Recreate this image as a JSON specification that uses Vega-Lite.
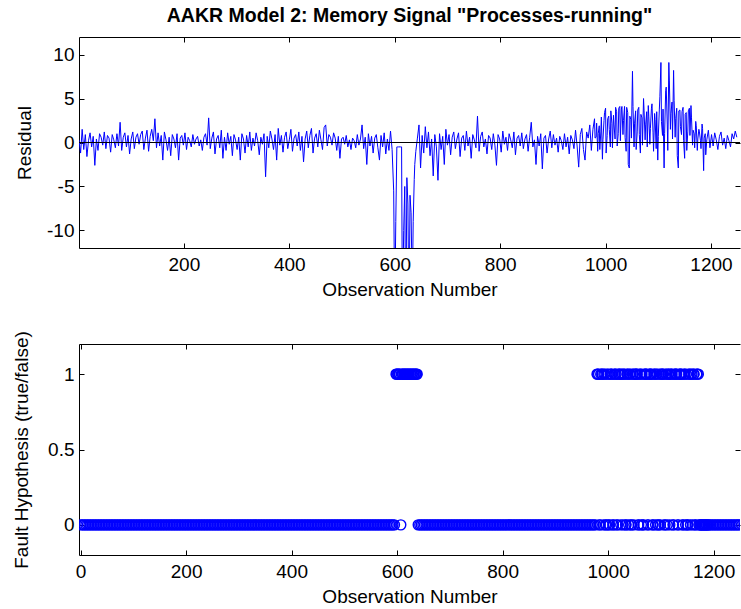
{
  "$schema": "https://vega.github.io/schema/vega-lite/v6.json",
  "padding": {"left": 12, "top": 6, "right": 0, "bottom": 0},
  "background": "white",
  "config": {
    "font": "Liberation Sans",
    "view": {"stroke": null},
    "axis": {"grid": false, "domainColor": "black", "domainWidth": 1, "tickColor": "black", "tickWidth": 1, "tickSize": -5, "labelFontSize": 19, "titleFontSize": 19, "titleFontWeight": "normal", "labelColor": "black", "titleColor": "black", "labelPadding": 10, "labelFlush": false, "labelOverlap": false}
  },
  "datasets": {
    "d": [
{"o":1,"r":0.3,"f":0},{"o":4,"r":-1.2,"f":0},{"o":7,"r":1.5,"f":0},{"o":10,"r":-0.8,"f":0},{"o":13,"r":0.9,"f":0},{"o":16,"r":-1.6,"f":0},{"o":19,"r":0.2,"f":0},{"o":22,"r":1.1,"f":0},{"o":25,"r":-0.5,"f":0},{"o":28,"r":0.7,"f":0},
{"o":31,"r":-2.6,"f":0},{"o":34,"r":0.4,"f":0},{"o":37,"r":-0.9,"f":0},{"o":40,"r":1.0,"f":0},{"o":43,"r":0.6,"f":0},{"o":46,"r":-0.3,"f":0},{"o":49,"r":1.2,"f":0},{"o":52,"r":-0.7,"f":0},{"o":55,"r":0.8,"f":0},{"o":58,"r":0.5,"f":0},
{"o":61,"r":-1.1,"f":0},{"o":64,"r":0.9,"f":0},{"o":67,"r":0.3,"f":0},{"o":70,"r":-0.6,"f":0},{"o":73,"r":1.0,"f":0},{"o":76,"r":-0.4,"f":0},{"o":79,"r":2.3,"f":0},{"o":82,"r":-0.9,"f":0},{"o":85,"r":0.6,"f":0},{"o":88,"r":1.1,"f":0},
{"o":91,"r":-0.5,"f":0},{"o":94,"r":0.8,"f":0},{"o":97,"r":-1.3,"f":0},{"o":100,"r":0.4,"f":0},{"o":103,"r":1.2,"f":0},{"o":106,"r":-0.7,"f":0},{"o":109,"r":0.6,"f":0},{"o":112,"r":1.0,"f":0},{"o":115,"r":-0.2,"f":0},{"o":118,"r":0.9,"f":0},
{"o":121,"r":1.3,"f":0},{"o":124,"r":-0.8,"f":0},{"o":127,"r":0.5,"f":0},{"o":130,"r":1.4,"f":0},{"o":133,"r":-1.0,"f":0},{"o":136,"r":0.7,"f":0},{"o":139,"r":1.5,"f":0},{"o":142,"r":0.2,"f":0},{"o":145,"r":2.7,"f":0},{"o":148,"r":-0.6,"f":0},
{"o":151,"r":1.1,"f":0},{"o":154,"r":-0.4,"f":0},{"o":157,"r":0.8,"f":0},{"o":160,"r":-2.0,"f":0},{"o":163,"r":1.2,"f":0},{"o":166,"r":0.3,"f":0},{"o":169,"r":-0.9,"f":0},{"o":172,"r":0.6,"f":0},{"o":175,"r":-1.5,"f":0},{"o":178,"r":0.9,"f":0},
{"o":181,"r":0.4,"f":0},{"o":184,"r":-0.6,"f":0},{"o":187,"r":1.0,"f":0},{"o":190,"r":-2.0,"f":0},{"o":193,"r":0.5,"f":0},{"o":196,"r":0.8,"f":0},{"o":199,"r":-0.3,"f":0},{"o":202,"r":1.1,"f":0},{"o":205,"r":-0.8,"f":0},{"o":208,"r":0.6,"f":0},
{"o":211,"r":0.2,"f":0},{"o":214,"r":-0.5,"f":0},{"o":217,"r":0.9,"f":0},{"o":220,"r":-0.2,"f":0},{"o":223,"r":0.4,"f":0},{"o":226,"r":0.7,"f":0},{"o":229,"r":-0.4,"f":0},{"o":232,"r":0.3,"f":0},{"o":235,"r":-0.9,"f":0},{"o":238,"r":0.6,"f":0},
{"o":241,"r":1.0,"f":0},{"o":244,"r":-0.3,"f":0},{"o":247,"r":2.8,"f":0},{"o":250,"r":-0.7,"f":0},{"o":253,"r":0.5,"f":0},{"o":256,"r":1.2,"f":0},{"o":259,"r":-1.3,"f":0},{"o":262,"r":0.4,"f":0},{"o":265,"r":0.8,"f":0},{"o":268,"r":-0.6,"f":0},
{"o":271,"r":1.4,"f":0},{"o":274,"r":-1.8,"f":0},{"o":277,"r":0.6,"f":0},{"o":280,"r":-0.9,"f":0},{"o":283,"r":1.1,"f":0},{"o":286,"r":-0.2,"f":0},{"o":289,"r":0.7,"f":0},{"o":292,"r":-1.5,"f":0},{"o":295,"r":0.9,"f":0},{"o":298,"r":0.3,"f":0},
{"o":301,"r":-0.8,"f":0},{"o":304,"r":0.6,"f":0},{"o":307,"r":-2.0,"f":0},{"o":310,"r":1.0,"f":0},{"o":313,"r":0.4,"f":0},{"o":316,"r":-1.2,"f":0},{"o":319,"r":0.8,"f":0},{"o":322,"r":-0.5,"f":0},{"o":325,"r":1.2,"f":0},{"o":328,"r":-0.9,"f":0},
{"o":331,"r":0.5,"f":0},{"o":334,"r":-0.4,"f":0},{"o":337,"r":1.1,"f":0},{"o":340,"r":0.2,"f":0},{"o":343,"r":-1.4,"f":0},{"o":346,"r":0.6,"f":0},{"o":349,"r":-0.2,"f":0},{"o":352,"r":1.0,"f":0},{"o":355,"r":-3.9,"f":0},{"o":358,"r":0.7,"f":0},
{"o":361,"r":-0.6,"f":0},{"o":364,"r":1.3,"f":0},{"o":367,"r":0.4,"f":0},{"o":370,"r":-0.8,"f":0},{"o":373,"r":0.9,"f":0},{"o":376,"r":-2.0,"f":0},{"o":379,"r":1.6,"f":0},{"o":382,"r":-0.3,"f":0},{"o":385,"r":0.8,"f":0},{"o":388,"r":-1.1,"f":0},
{"o":391,"r":0.6,"f":0},{"o":394,"r":1.2,"f":0},{"o":397,"r":-0.7,"f":0},{"o":400,"r":0.3,"f":0},{"o":403,"r":1.5,"f":0},{"o":406,"r":-1.0,"f":0},{"o":409,"r":0.5,"f":0},{"o":412,"r":0.9,"f":0},{"o":415,"r":-0.4,"f":0},{"o":418,"r":1.2,"f":0},
{"o":421,"r":-0.9,"f":0},{"o":424,"r":0.7,"f":0},{"o":427,"r":-2.2,"f":0},{"o":430,"r":0.4,"f":0},{"o":433,"r":1.3,"f":0},{"o":436,"r":-0.6,"f":0},{"o":439,"r":0.8,"f":0},{"o":442,"r":1.6,"f":0},{"o":445,"r":-1.2,"f":0},{"o":448,"r":0.5,"f":0},
{"o":451,"r":1.0,"f":0},{"o":454,"r":-0.5,"f":0},{"o":457,"r":1.4,"f":0},{"o":460,"r":0.3,"f":0},{"o":463,"r":-0.8,"f":0},{"o":466,"r":1.7,"f":0},{"o":469,"r":2.0,"f":0},{"o":472,"r":-0.4,"f":0},{"o":475,"r":0.9,"f":0},{"o":478,"r":0.6,"f":0},
{"o":481,"r":-0.3,"f":0},{"o":484,"r":1.1,"f":0},{"o":487,"r":0.5,"f":0},{"o":490,"r":-0.9,"f":0},{"o":493,"r":0.7,"f":0},{"o":496,"r":-1.8,"f":0},{"o":499,"r":0.4,"f":0},{"o":502,"r":0.6,"f":0},{"o":505,"r":-0.2,"f":0},{"o":508,"r":0.8,"f":0},
{"o":511,"r":-0.5,"f":0},{"o":514,"r":0.3,"f":0},{"o":517,"r":-0.8,"f":0},{"o":520,"r":0.5,"f":0},{"o":523,"r":0.2,"f":0},{"o":526,"r":-0.6,"f":0},{"o":529,"r":0.9,"f":0},{"o":532,"r":-0.3,"f":0},{"o":535,"r":0.4,"f":0},{"o":538,"r":2.0,"f":0},
{"o":541,"r":-0.7,"f":0},{"o":544,"r":0.6,"f":0},{"o":547,"r":-2.5,"f":0},{"o":550,"r":1.0,"f":0},{"o":553,"r":-0.4,"f":0},{"o":556,"r":0.7,"f":0},{"o":559,"r":-1.2,"f":0},{"o":562,"r":0.5,"f":0},{"o":565,"r":0.9,"f":0},{"o":568,"r":-0.6,"f":0},
{"o":571,"r":-2.0,"f":0},{"o":574,"r":0.8,"f":0},{"o":577,"r":-0.5,"f":0},{"o":580,"r":1.1,"f":0},{"o":583,"r":-1.3,"f":0},{"o":586,"r":0.4,"f":0},{"o":589,"r":-0.9,"f":0},{"o":592,"r":1.3,"f":0},{"o":595,"r":-0.8,"f":0},{"o":598,"r":-5.5,"f":1},
{"o":599,"r":-12.5,"f":1},{"o":602,"r":-9,"f":1},{"o":605,"r":-0.5,"f":1},{"o":608,"r":-0.5,"f":1},{"o":611,"r":-0.5,"f":1},{"o":614,"r":-13,"f":1},{"o":617,"r":-10,"f":1},{"o":620,"r":-14,"f":1},{"o":623,"r":-4,"f":1},{"o":626,"r":-14,"f":1},{"o":629,"r":-6,"f":1},{"o":632,"r":-12,"f":1},{"o":635,"r":-9,"f":1},{"o":638,"r":-2.5,"f":1},
{"o":601,"r":-14,"f":1},{"o":604,"r":-0.5,"f":1},{"o":607,"r":-0.5,"f":0},{"o":610,"r":-0.5,"f":1},{"o":613,"r":-0.5,"f":1},{"o":616,"r":-14,"f":1},{"o":619,"r":-5,"f":1},{"o":622,"r":-13,"f":1},{"o":625,"r":-7,"f":1},{"o":628,"r":-14,"f":1},
{"o":631,"r":-8,"f":1},{"o":634,"r":-14,"f":1},{"o":637,"r":-4.2,"f":1},{"o":640,"r":-1.0,"f":0},{"o":643,"r":0.5,"f":0},{"o":646,"r":2.0,"f":0},{"o":649,"r":-2.9,"f":0},{"o":652,"r":0.8,"f":0},{"o":655,"r":-1.2,"f":0},{"o":658,"r":1.8,"f":0},
{"o":661,"r":-0.6,"f":0},{"o":664,"r":1.2,"f":0},{"o":667,"r":-1.5,"f":0},{"o":670,"r":0.4,"f":0},{"o":673,"r":-3.8,"f":0},{"o":676,"r":0.9,"f":0},{"o":679,"r":-0.5,"f":0},{"o":682,"r":-4.3,"f":0},{"o":685,"r":1.0,"f":0},{"o":688,"r":-0.8,"f":0},
{"o":691,"r":0.7,"f":0},{"o":694,"r":-2.5,"f":0},{"o":697,"r":1.5,"f":0},{"o":700,"r":-0.3,"f":0},{"o":703,"r":0.9,"f":0},{"o":706,"r":-1.4,"f":0},{"o":709,"r":0.6,"f":0},{"o":712,"r":1.2,"f":0},{"o":715,"r":-0.7,"f":0},{"o":718,"r":0.4,"f":0},
{"o":721,"r":1.1,"f":0},{"o":724,"r":-1.6,"f":0},{"o":727,"r":0.5,"f":0},{"o":730,"r":0.8,"f":0},{"o":733,"r":-0.9,"f":0},{"o":736,"r":1.3,"f":0},{"o":739,"r":-0.4,"f":0},{"o":742,"r":0.6,"f":0},{"o":745,"r":-1.8,"f":0},{"o":748,"r":0.9,"f":0},
{"o":751,"r":0.3,"f":0},{"o":754,"r":-0.6,"f":0},{"o":757,"r":3.0,"f":0},{"o":760,"r":-1.0,"f":0},{"o":763,"r":0.7,"f":0},{"o":766,"r":1.2,"f":0},{"o":769,"r":-0.5,"f":0},{"o":772,"r":0.4,"f":0},{"o":775,"r":-1.3,"f":0},{"o":778,"r":0.8,"f":0},
{"o":781,"r":0.5,"f":0},{"o":784,"r":-0.8,"f":0},{"o":787,"r":1.0,"f":0},{"o":790,"r":-0.3,"f":0},{"o":793,"r":-2.6,"f":0},{"o":796,"r":0.9,"f":0},{"o":799,"r":0.4,"f":0},{"o":802,"r":-1.1,"f":0},{"o":805,"r":1.3,"f":0},{"o":808,"r":-0.2,"f":0},
{"o":811,"r":0.6,"f":0},{"o":814,"r":-0.9,"f":0},{"o":817,"r":1.0,"f":0},{"o":820,"r":0.3,"f":0},{"o":823,"r":-0.6,"f":0},{"o":826,"r":1.2,"f":0},{"o":829,"r":-1.4,"f":0},{"o":832,"r":0.5,"f":0},{"o":835,"r":0.8,"f":0},{"o":838,"r":-0.4,"f":0},
{"o":841,"r":1.1,"f":0},{"o":844,"r":-0.7,"f":0},{"o":847,"r":0.4,"f":0},{"o":850,"r":0.9,"f":0},{"o":853,"r":-1.0,"f":0},{"o":856,"r":0.6,"f":0},{"o":859,"r":2.3,"f":0},{"o":862,"r":-0.5,"f":0},{"o":865,"r":0.3,"f":0},{"o":868,"r":-2.5,"f":0},
{"o":871,"r":0.7,"f":0},{"o":874,"r":-0.4,"f":0},{"o":877,"r":1.0,"f":0},{"o":880,"r":-3.0,"f":0},{"o":883,"r":0.5,"f":0},{"o":886,"r":0.8,"f":0},{"o":889,"r":-1.2,"f":0},{"o":892,"r":0.4,"f":0},{"o":895,"r":1.3,"f":0},{"o":898,"r":-0.6,"f":0},
{"o":901,"r":0.9,"f":0},{"o":904,"r":-0.3,"f":0},{"o":907,"r":0.5,"f":0},{"o":910,"r":-1.1,"f":0},{"o":913,"r":0.7,"f":0},{"o":916,"r":0.2,"f":0},{"o":919,"r":-0.8,"f":0},{"o":922,"r":1.0,"f":0},{"o":925,"r":-0.5,"f":0},{"o":928,"r":0.6,"f":0},
{"o":931,"r":-1.3,"f":0},{"o":934,"r":0.8,"f":0},{"o":937,"r":0.3,"f":0},{"o":940,"r":-0.7,"f":0},{"o":943,"r":1.4,"f":0},{"o":946,"r":-0.4,"f":0},{"o":949,"r":-2.8,"f":0},{"o":952,"r":0.9,"f":0},{"o":955,"r":1.6,"f":0},{"o":958,"r":-0.8,"f":0},
{"o":961,"r":-2.0,"f":0},{"o":964,"r":1.2,"f":0},{"o":967,"r":0.5,"f":0},{"o":970,"r":2.0,"f":0},{"o":973,"r":-0.9,"f":0},{"o":976,"r":1.5,"f":0},{"o":979,"r":2.7,"f":1},{"o":982,"r":0.6,"f":1},{"o":985,"r":-1.0,"f":0},{"o":988,"r":1.9,"f":1},
{"o":991,"r":1.2,"f":0},{"o":994,"r":-1.9,"f":1},{"o":997,"r":2.5,"f":0},{"o":1000,"r":3.9,"f":1},{"o":1003,"r":0.8,"f":0},{"o":1006,"r":3.0,"f":1},{"o":1009,"r":-0.5,"f":0},{"o":1012,"r":2.2,"f":1},{"o":1015,"r":3.1,"f":1},{"o":1018,"r":0.4,"f":0},
{"o":1021,"r":3.5,"f":1},{"o":1024,"r":1.0,"f":0},{"o":1027,"r":4.1,"f":1},{"o":1030,"r":3.8,"f":1},{"o":1033,"r":0.9,"f":0},{"o":1036,"r":4.1,"f":1},{"o":1039,"r":-1.0,"f":0},{"o":1042,"r":3.4,"f":1},{"o":1045,"r":-2.9,"f":0},{"o":1048,"r":2.6,"f":1},
{"o":1051,"r":8.1,"f":1},{"o":1054,"r":-0.5,"f":1},{"o":1057,"r":3.6,"f":0},{"o":1060,"r":1.2,"f":1},{"o":1063,"r":4.0,"f":0},{"o":1066,"r":-1.2,"f":0},{"o":1069,"r":2.8,"f":1},{"o":1072,"r":5.0,"f":1},{"o":1075,"r":0.3,"f":0},{"o":1078,"r":3.5,"f":1},
{"o":1081,"r":4.2,"f":1},{"o":1084,"r":-0.2,"f":0},{"o":1087,"r":3.9,"f":1},{"o":1090,"r":1.1,"f":0},{"o":1093,"r":3.3,"f":1},{"o":1096,"r":-0.7,"f":0},{"o":1099,"r":-2.0,"f":0},{"o":1102,"r":3.8,"f":1},{"o":1105,"r":9.1,"f":1},{"o":1108,"r":0.8,"f":0},
{"o":1111,"r":-2.9,"f":1},{"o":1114,"r":5.9,"f":1},{"o":1117,"r":2.1,"f":0},{"o":1120,"r":9.1,"f":1},{"o":1123,"r":1.5,"f":0},{"o":1126,"r":4.6,"f":1},{"o":1129,"r":8.2,"f":1},{"o":1132,"r":0.6,"f":0},{"o":1135,"r":3.9,"f":1},{"o":1138,"r":-2.9,"f":1},
{"o":1141,"r":3.7,"f":0},{"o":1144,"r":0.9,"f":1},{"o":1147,"r":4.0,"f":0},{"o":1150,"r":-1.8,"f":0},{"o":1153,"r":3.4,"f":1},{"o":1156,"r":1.3,"f":0},{"o":1159,"r":3.9,"f":1},{"o":1162,"r":4.2,"f":1},{"o":1165,"r":-0.3,"f":0},{"o":1168,"r":1.0,"f":1},
{"o":1171,"r":2.4,"f":1},{"o":1174,"r":-0.9,"f":0},{"o":1177,"r":1.5,"f":0},{"o":1180,"r":0.2,"f":0},{"o":1183,"r":2.1,"f":0},{"o":1186,"r":-3.2,"f":0},{"o":1189,"r":1.0,"f":0},{"o":1192,"r":0.3,"f":0},{"o":1195,"r":1.4,"f":0},{"o":1198,"r":-0.6,"f":0},
{"o":1201,"r":0.9,"f":0},{"o":1204,"r":-0.4,"f":0},{"o":1207,"r":1.1,"f":0},{"o":1210,"r":0.3,"f":0},{"o":1213,"r":-0.8,"f":0},{"o":1216,"r":0.7,"f":0},{"o":1219,"r":1.2,"f":0},{"o":1222,"r":-0.3,"f":0},{"o":1225,"r":0.5,"f":0},{"o":1228,"r":-0.7,"f":0},
{"o":1231,"r":0.8,"f":0},{"o":1234,"r":0.2,"f":0},{"o":1237,"r":-0.5,"f":0},{"o":1240,"r":1.0,"f":0},{"o":1243,"r":0.4,"f":0},{"o":1246,"r":1.3,"f":0},{"o":1249,"r":0.6,"f":0},
{"o":980,"r":0.5,"f":1},{"o":983,"r":2.2,"f":0},{"o":986,"r":1.0,"f":1},{"o":989,"r":-0.8,"f":1},{"o":992,"r":2.9,"f":1},{"o":995,"r":0.3,"f":0},{"o":998,"r":3.4,"f":1},{"o":1001,"r":-1.2,"f":0},{"o":1004,"r":2.7,"f":1},{"o":1007,"r":1.5,"f":1},
{"o":1010,"r":3.6,"f":0},{"o":1013,"r":-0.6,"f":1},{"o":1016,"r":2.0,"f":0},{"o":1019,"r":4.0,"f":1},{"o":1022,"r":-0.4,"f":1},{"o":1025,"r":3.9,"f":1},{"o":1028,"r":0.2,"f":0},{"o":1031,"r":4.1,"f":1},{"o":1034,"r":2.5,"f":0},{"o":1037,"r":0.6,"f":1},
{"o":1040,"r":4.0,"f":1},{"o":1043,"r":-2.5,"f":0},{"o":1046,"r":3.0,"f":1},{"o":1049,"r":0.5,"f":0},{"o":1052,"r":4.1,"f":1},{"o":1055,"r":2.2,"f":1},{"o":1058,"r":-0.8,"f":0},{"o":1061,"r":3.7,"f":1},{"o":1064,"r":0.9,"f":1},{"o":1067,"r":3.2,"f":0},
{"o":1070,"r":-0.3,"f":1},{"o":1073,"r":3.6,"f":1},{"o":1076,"r":2.0,"f":0},{"o":1079,"r":-0.5,"f":1},{"o":1082,"r":3.0,"f":1},{"o":1085,"r":1.6,"f":0},{"o":1088,"r":4.4,"f":1},{"o":1091,"r":-1.0,"f":1},{"o":1094,"r":2.6,"f":0},{"o":1097,"r":3.5,"f":1},
{"o":1100,"r":0.7,"f":1},{"o":1103,"r":5.2,"f":1},{"o":1106,"r":2.4,"f":0},{"o":1109,"r":3.8,"f":1},{"o":1112,"r":1.0,"f":0},{"o":1115,"r":6.3,"f":1},{"o":1118,"r":-0.9,"f":1},{"o":1121,"r":7.0,"f":1},{"o":1124,"r":3.3,"f":0},{"o":1127,"r":0.4,"f":1},
{"o":1130,"r":4.8,"f":1},{"o":1133,"r":2.7,"f":0},{"o":1136,"r":-1.5,"f":1},{"o":1139,"r":3.6,"f":1},{"o":1142,"r":1.8,"f":0},{"o":1145,"r":3.5,"f":1},{"o":1148,"r":0.2,"f":1},{"o":1151,"r":3.2,"f":0},{"o":1154,"r":-0.9,"f":1},{"o":1157,"r":3.6,"f":1},
{"o":1160,"r":0.8,"f":0},{"o":1163,"r":2.8,"f":1},{"o":1166,"r":1.4,"f":0},{"o":1169,"r":-0.6,"f":1},{"o":1172,"r":1.9,"f":0},{"o":1175,"r":0.4,"f":0},{"o":1178,"r":1.2,"f":0},{"o":1181,"r":-0.7,"f":0},{"o":1184,"r":1.6,"f":0},{"o":1187,"r":0.5,"f":0},{"o":1190,"r":-1.4,"f":0}
    ]
  },
  "spacing": 31,
  "vconcat": [
    {
      "title": {"text": "AAKR Model 2: Memory Signal \"Processes-running\"", "fontSize": 19.5, "fontWeight": "bold", "anchor": "middle", "frame": "group", "offset": 10, "color": "black"},
      "width": 661,
      "height": 211,
      "data": {"name": "d"},
      "layer": [
        {
          "mark": {"type": "line", "color": "#0000ff", "strokeWidth": 1, "clip": true},
          "encoding": {
            "x": {"field": "o", "type": "quantitative", "scale": {"domain": [1, 1255], "nice": false, "zero": false}, "axis": {"orient": "bottom", "values": [200, 400, 600, 800, 1000, 1200], "format": "d", "labelPadding": 12, "title": "Observation Number", "titlePadding": 6}},
            "y": {"field": "r", "type": "quantitative", "scale": {"domain": [-12, 12], "nice": false}, "axis": {"orient": "left", "values": [-10, -5, 0, 5, 10], "labelExpr": "datum.value < 0 ? '-' + abs(datum.value) : '' + datum.value", "title": "Residual", "titlePadding": 12}}
          }
        },
        {
          "mark": {"type": "rule", "color": "black", "strokeWidth": 1},
          "encoding": {
            "y": {"datum": 0, "type": "quantitative", "scale": {"domain": [-12, 12], "nice": false}, "axis": null}
          }
        },
        {
          "mark": {"type": "point", "opacity": 0, "clip": true},
          "encoding": {
            "x": {"field": "o", "type": "quantitative", "scale": {"domain": [1, 1255], "nice": false, "zero": false}, "axis": {"orient": "top", "values": [200, 400, 600, 800, 1000, 1200], "labels": false, "title": null}},
            "y": {"field": "r", "type": "quantitative", "scale": {"domain": [-12, 12], "nice": false}, "axis": {"orient": "right", "values": [-10, -5, 0, 5, 10], "labels": false, "title": null, "domain": false}}
          }
        }
      ],
      "resolve": {"scale": {"x": "independent", "y": "independent"}}
    },
    {
      "width": 661,
      "height": 211,
      "data": {"name": "d"},
      "layer": [
        {
          "mark": {"type": "point", "shape": "circle", "filled": false, "color": "#0000ff", "size": 100, "strokeWidth": 1.4, "opacity": 1, "clip": true},
          "encoding": {
            "x": {"field": "o", "type": "quantitative", "scale": {"domain": [-3, 1250], "nice": false, "zero": false}, "axis": {"orient": "bottom", "values": [0, 200, 400, 600, 800, 1000, 1200], "format": "d", "labelPadding": 12, "title": "Observation Number", "titlePadding": 6}},
            "y": {"field": "f", "type": "quantitative", "scale": {"domain": [-0.2, 1.2], "nice": false}, "axis": {"orient": "left", "values": [0, 0.5, 1], "format": "~g", "title": "Fault Hypothesis (true/false)", "titlePadding": 16}}
          }
        },
        {
          "mark": {"type": "point", "opacity": 0, "clip": true},
          "encoding": {
            "x": {"field": "o", "type": "quantitative", "scale": {"domain": [-3, 1250], "nice": false, "zero": false}, "axis": {"orient": "top", "values": [0, 200, 400, 600, 800, 1000, 1200], "labels": false, "title": null}},
            "y": {"field": "f", "type": "quantitative", "scale": {"domain": [-0.2, 1.2], "nice": false}, "axis": {"orient": "right", "values": [0, 0.5, 1], "labels": false, "title": null, "domain": false}}
          }
        }
      ],
      "resolve": {"scale": {"x": "independent", "y": "independent"}}
    }
  ]
}
